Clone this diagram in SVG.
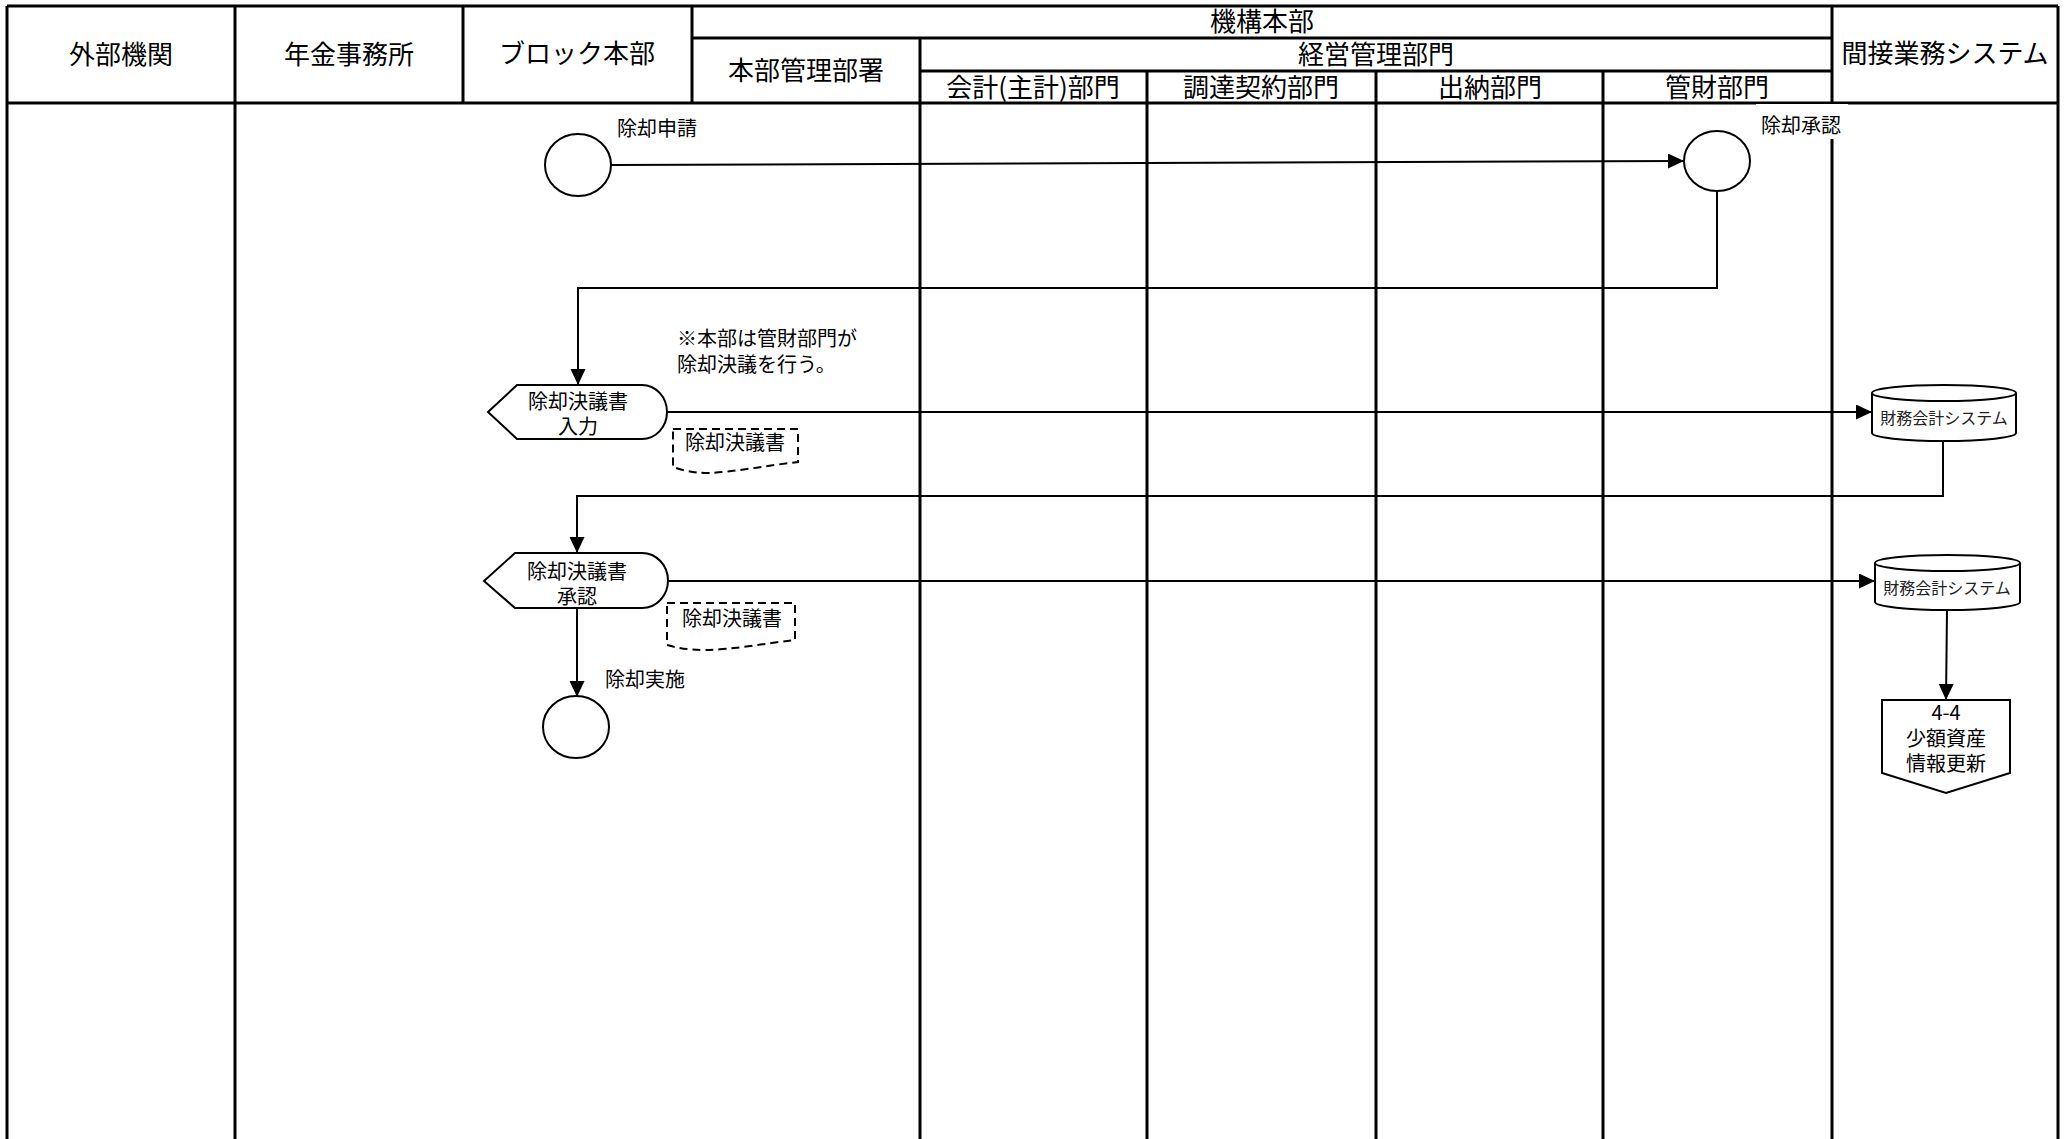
<svg xmlns="http://www.w3.org/2000/svg" width="2071" height="1139" viewBox="0 0 2071 1139">
<style>
  .frame { stroke: #000; stroke-width: 3; fill: none; }
  .hdr { font-family: "Noto Sans CJK JP", "Noto Sans", sans-serif; font-size: 26px; fill: #000; text-anchor: middle; dominant-baseline: central; }
  .lbl { font-family: "Noto Sans CJK JP", "Noto Sans", sans-serif; font-size: 20px; fill: #000; dominant-baseline: central; }
  .mid { text-anchor: middle; }
  .sys { font-family: "Noto Sans CJK JP", "Noto Sans", sans-serif; font-size: 16px; fill: #222; text-anchor: middle; dominant-baseline: central; }
  .shape { fill: #fff; stroke: #000; stroke-width: 2; }
  .doc { fill: #fff; stroke: #000; stroke-width: 2; stroke-dasharray: 8 5; }
  .conn { fill: none; stroke: #000; stroke-width: 2; }
</style>
<defs>
  <marker id="arrow" markerUnits="userSpaceOnUse" markerWidth="17" markerHeight="16" refX="16" refY="7.5" orient="auto">
    <path d="M0,0 L16,7.5 L0,15 Z" fill="#000"/>
  </marker>
</defs>
<rect x="0" y="0" width="2071" height="1139" fill="#fff"/>

<g id="lanes">
  <line class="frame" x1="7" y1="6" x2="2058" y2="6"/>
  <line class="frame" x1="692" y1="38" x2="1832" y2="38"/>
  <line class="frame" x1="920" y1="71" x2="1832" y2="71"/>
  <line class="frame" x1="7" y1="103" x2="2058" y2="103"/>
  <line class="frame" x1="7" y1="6" x2="7" y2="1139"/>
  <line class="frame" x1="235" y1="6" x2="235" y2="1139"/>
  <line class="frame" x1="463" y1="6" x2="463" y2="103"/>
  <line class="frame" x1="692" y1="6" x2="692" y2="103"/>
  <line class="frame" x1="920" y1="38" x2="920" y2="1139"/>
  <line class="frame" x1="1147" y1="71" x2="1147" y2="1139"/>
  <line class="frame" x1="1376" y1="71" x2="1376" y2="1139"/>
  <line class="frame" x1="1603" y1="71" x2="1603" y2="1139"/>
  <line class="frame" x1="1832" y1="6" x2="1832" y2="1139"/>
  <line class="frame" x1="2058" y1="6" x2="2058" y2="1139"/>
  <text class="hdr" x="121" y="52">外部機関</text>
  <text class="hdr" x="349" y="52">年金事務所</text>
  <text class="hdr" x="577" y="51">ブロック本部</text>
  <text class="hdr" x="1262" y="19">機構本部</text>
  <text class="hdr" x="806" y="68">本部管理部署</text>
  <text class="hdr" x="1376" y="52">経営管理部門</text>
  <text class="hdr" x="1033" y="85">会計(主計)部門</text>
  <text class="hdr" x="1261" y="85">調達契約部門</text>
  <text class="hdr" x="1490" y="85">出納部門</text>
  <text class="hdr" x="1717" y="85">管財部門</text>
  <text class="hdr" x="1945" y="51">間接業務システム</text>
</g>

<g id="connectors">
  <path class="conn" d="M611,165 L1684,161" marker-end="url(#arrow)"/>
  <path class="conn" d="M1717,192 V288 H578 V385" marker-end="url(#arrow)"/>
  <path class="conn" d="M667,412 H1872" marker-end="url(#arrow)"/>
  <path class="conn" d="M1943,441 V496 H577 V553" marker-end="url(#arrow)"/>
  <path class="conn" d="M668,581 H1875" marker-end="url(#arrow)"/>
  <path class="conn" d="M577,608 V697" marker-end="url(#arrow)"/>
  <path class="conn" d="M1947,610 L1946,700" marker-end="url(#arrow)"/>
</g>

<g id="n-request">
  <ellipse class="shape" cx="578" cy="165" rx="33" ry="31"/>
  <text class="lbl" x="617" y="127">除却申請</text>
</g>

<g id="n-approve">
  <rect x="1756" y="104" width="92" height="35" fill="#fff"/>
  <ellipse class="shape" cx="1717" cy="161" rx="33" ry="30"/>
  <text class="lbl" x="1761" y="124">除却承認</text>
</g>

<g id="n-note">
  <text class="lbl" x="677" y="337">※本部は管財部門が</text>
  <text class="lbl" x="677" y="363">除却決議を行う。</text>
</g>

<g id="n-input">
  <path class="shape" d="M488,412 L517,385 H642 A25,27 0 0 1 642,439 H517 Z"/>
  <text class="lbl mid" x="578" y="400">除却決議書</text>
  <text class="lbl mid" x="578" y="425">入力</text>
</g>

<g id="n-doc1">
  <path class="doc" d="M673,429 H798 V462 C770,465 735,472 708,473 C692,473 682,470 673,467 Z"/>
  <text class="lbl mid" x="735" y="441">除却決議書</text>
</g>

<g id="n-sys1">
  <path class="shape" d="M1872,393 V433 A72,8 0 0 0 2016,433 V393"/>
  <ellipse class="shape" cx="1944" cy="393" rx="72" ry="8"/>
  <text class="sys" x="1944" y="417">財務会計システム</text>
</g>

<g id="n-approve-doc">
  <path class="shape" d="M484,581 L515,553 H642 A26,27.5 0 0 1 642,608 H515 Z"/>
  <text class="lbl mid" x="577" y="570">除却決議書</text>
  <text class="lbl mid" x="577" y="595">承認</text>
</g>

<g id="n-doc2">
  <path class="doc" d="M667,603 H795 V640 C767,643 732,650 705,650 C688,650 678,648 667,645 Z"/>
  <text class="lbl mid" x="732" y="617">除却決議書</text>
</g>

<g id="n-sys2">
  <path class="shape" d="M1875,563 V602 A72.5,8 0 0 0 2020,602 V563"/>
  <ellipse class="shape" cx="1947.5" cy="563" rx="72.5" ry="8"/>
  <text class="sys" x="1947" y="587">財務会計システム</text>
</g>

<g id="n-execute">
  <ellipse class="shape" cx="576" cy="727" rx="33" ry="31"/>
  <text class="lbl" x="605" y="678">除却実施</text>
</g>

<g id="n-offpage">
  <path class="shape" d="M1882,700 H2010 V773 L1946,793 L1882,773 Z"/>
  <text class="lbl mid" x="1946" y="711">4-4</text>
  <text class="lbl mid" x="1946" y="737">少額資産</text>
  <text class="lbl mid" x="1946" y="762">情報更新</text>
</g>
</svg>
